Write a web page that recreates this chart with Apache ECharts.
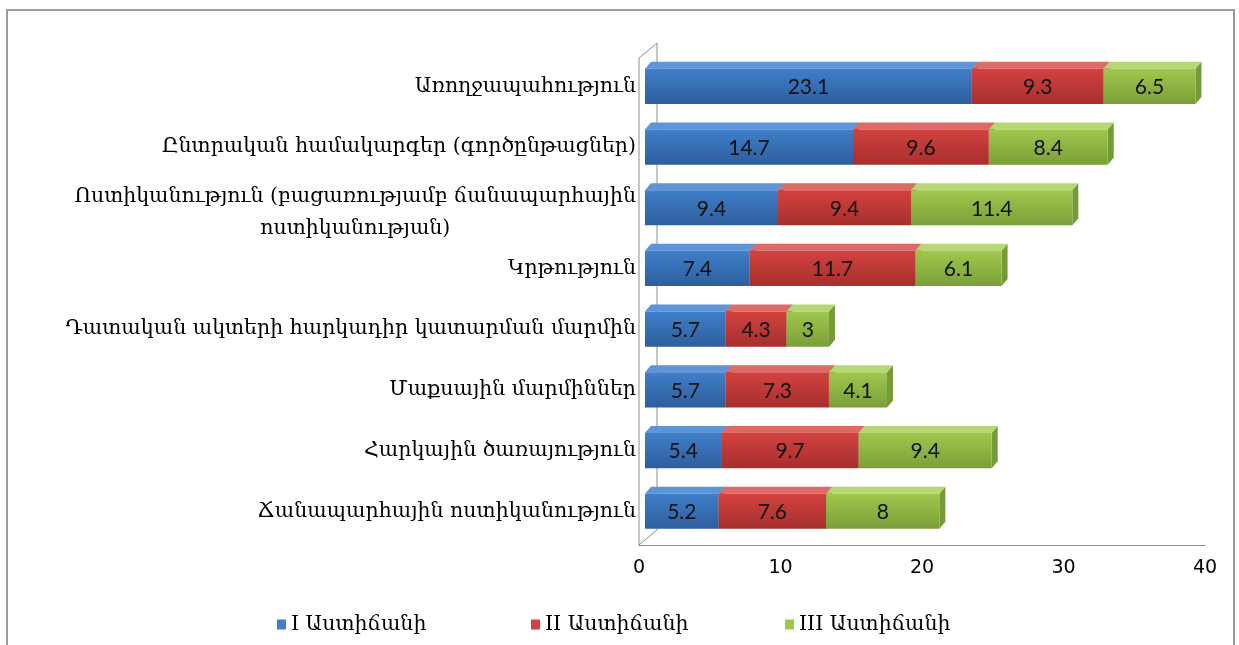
<!DOCTYPE html>
<html><head><meta charset="utf-8">
<script src="https://cdn.jsdelivr.net/npm/echarts@6/dist/echarts.min.js"></script>
<style>html,body{margin:0;padding:0;background:#fff}#c{width:1239px;height:645px}</style>
</head><body><div id="c"></div>
<script>
const categories = [
  'Առողջապահություն',
  'Ընտրական համակարգեր (գործընթացներ)',
  'Ոստիկանություն (բացառությամբ ճանապարհային\nոստիկանության)',
  'Կրթություն',
  'Դատական ակտերի հարկադիր կատարման մարմին',
  'Մաքսային մարմիններ',
  'Հարկային ծառայություն',
  'Ճանապարհային ոստիկանություն'
];
const seriesNames = ['I Աստիճանի', 'II Աստիճանի', 'III Աստիճանի'];
const level1 = [23.1, 14.7, 9.4, 7.4, 5.7, 5.7, 5.4, 5.2];
const level2 = [9.3, 9.6, 9.4, 11.7, 4.3, 7.3, 9.7, 7.6];
const level3 = [6.5, 8.4, 11.4, 6.1, 3, 4.1, 9.4, 8];
const xTicks = [0, 10, 20, 30, 40];

const palettes = [
  {front: ['#3f7fca', '#2e5e9d'], top: '#5d95d8', side: '#2a568f'},
  {front: ['#d2423f', '#a62f2d'], top: '#dc6a67', side: '#982a28'},
  {front: ['#a0c74d', '#7b9f38'], top: '#b6d774', side: '#759a36'}
];
const legendLefts = [272, 526, 780];
const DX = 6, DY = 7, SHIFT = 6;
const serif = '"DejaVu Serif", "Liberation Serif", serif';
const catFontSize = 20.5;

// measure wrapped label
const cv = document.createElement('canvas').getContext('2d');
cv.font = catFontSize + 'px ' + serif;
let wrapW = 0;
categories.forEach(c => { if (c.indexOf('\n') >= 0) c.split('\n').forEach(l => { wrapW = Math.max(wrapW, cv.measureText(l).width); }); });

const levels = [level1, level2, level3];
const seriesData = levels.map((arr, si) => arr.map((v, i) => {
  let s = 0; for (let k = 0; k < si; k++) s += levels[k][i];
  return [i, s, s + v, v];
}));

function makeRender(pal) {
  return function (params, api) {
    const cat = api.value(0), s = api.value(1), e = api.value(2), v = api.value(3);
    const p0 = api.coord([s, cat]), p1 = api.coord([e, cat]);
    const band = api.size([0, 1])[1];
    const h = band * 0.58;
    const x0 = p0[0] + SHIFT, x1 = p1[0] + SHIFT;
    const yc = p0[1];
    const top = yc - h / 2, bot = yc + h / 2;
    return {
      type: 'group',
      children: [
        {type: 'polygon', shape: {points: [[x1, top], [x1 + DX, top - DY], [x1 + DX, bot - DY], [x1, bot]]}, style: {fill: pal.side}},
        {type: 'polygon', shape: {points: [[x0, top], [x0 + DX, top - DY], [x1 + DX, top - DY], [x1, top]]}, style: {fill: pal.top}},
        {type: 'rect', shape: {x: x0, y: top, width: x1 - x0, height: h},
          style: {fill: new echarts.graphic.LinearGradient(0, 0, 0, 1, [{offset: 0, color: pal.front[0]}, {offset: 1, color: pal.front[1]}])}},
        {type: 'text', style: {text: String(v), x: (x0 + x1) / 2, y: yc + 1, align: 'center', verticalAlign: 'middle',
          font: '21px Lato', fill: '#111'}}
      ]
    };
  };
}

const chart = echarts.init(document.getElementById('c'));
const gridTop = 56, gridH = 485.6;
chart.setOption({
  animation: false,
  backgroundColor: '#fff',
  grid: {left: 639, width: 566, top: gridTop, height: gridH, containLabel: false},
  xAxis: {
    type: 'value', min: xTicks[0], max: xTicks[xTicks.length - 1], interval: 10, offset: 3.5,
    axisLine: {show: true, lineStyle: {color: '#8c8c8c', width: 1}},
    axisTick: {show: false}, splitLine: {show: false},
    axisLabel: {margin: 13, fontFamily: 'DejaVu Sans', fontSize: 19, color: '#000'}
  },
  yAxis: {
    type: 'category', data: categories, inverse: true,
    axisLine: {show: false}, axisTick: {show: false},
    axisLabel: {
      margin: 3, fontFamily: serif, fontSize: catFontSize, color: '#000', lineHeight: 32,
      formatter: function (v) {
        if (v.indexOf('\n') < 0) return v;
        return v.split('\n').map(l => '{w|' + l + '}').join('\n');
      },
      rich: {w: {width: wrapW, align: 'center', fontFamily: serif, fontSize: catFontSize, color: '#000', lineHeight: 32, padding: [10, 0, 0, 0]}}
    }
  },
  legend: seriesNames.map((n, i) => ({
    data: [n], left: legendLefts[i], top: 609, icon: 'rect', itemWidth: 9, itemHeight: 10, itemGap: 6,
    textStyle: {fontFamily: serif, fontSize: 20.5, color: '#000'}
  })),
  graphic: [
    {type: 'rect', shape: {x: 7, y: 10, width: 1227, height: 700}, style: {fill: null, stroke: '#9c9c9c', lineWidth: 2}, z: -10, silent: true},
    {type: 'polyline', shape: {points: [[657, 530], [657, 43], [639, 58], [639, 545], [657, 530]]}, style: {fill: null, stroke: '#8c8c8c', lineWidth: 1}, z: -5, silent: true}
  ],
  series: palettes.map((pal, i) => ({
    name: seriesNames[i], type: 'custom', renderItem: makeRender(pal),
    data: seriesData[i], encode: {x: [1, 2], y: 0},
    itemStyle: {color: pal.front[0]}, z: 2 + i
  }))
});
</script></body></html>
